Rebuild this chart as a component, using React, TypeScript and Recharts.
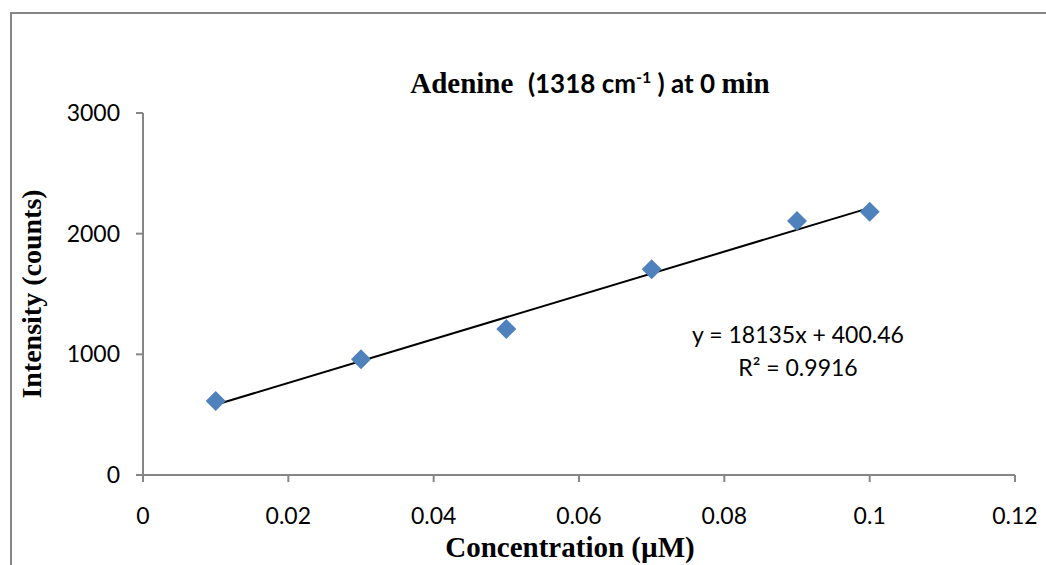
import {
  ComposedChart,
  Scatter,
  XAxis,
  YAxis,
  Label,
} from "recharts";

const concentrations = [0.01, 0.03, 0.05, 0.07, 0.09, 0.1];
const intensities = [613, 960, 1210, 1705, 2105, 2182];
const trendX = [0.01, 0.1];
const trendY = [582, 2214];
const xTicks = [0, 0.02, 0.04, 0.06, 0.08, 0.1, 0.12];
const yTicks = [0, 1000, 2000, 3000];

const points = concentrations.map((c, i) => ({ x: c, y: intensities[i] }));
const trend = trendX.map((c, i) => ({ x: c, y: trendY[i] }));

const axisGray = "#868686";
const tickFont = "Lato, 'Open Sans', sans-serif";
const serif = "'Liberation Serif', 'Times New Roman', serif";

const Diamond = (props: any) => {
  const { cx, cy } = props;
  const r = 10;
  return (
    <polygon
      points={`${cx},${cy - r} ${cx + r},${cy} ${cx},${cy + r} ${cx - r},${cy}`}
      fill="#4F81BD"
    />
  );
};

const NoDot = () => <g />;

export default function App() {
  return (
    <div
      style={{
        position: "absolute",
        left: 0,
        top: 0,
        width: 1046,
        height: 565,
        background: "#fff",
        overflow: "hidden",
      }}
    >
      <div
        style={{
          position: "absolute",
          left: 10,
          top: 12,
          width: 1100,
          height: 600,
          borderLeft: `2px solid ${axisGray}`,
          borderTop: `2px solid ${axisGray}`,
        }}
      />
      <div
        style={{
          position: "absolute",
          left: 0,
          width: 1180,
          top: 60,
          textAlign: "center",
          fontWeight: "bold",
          fontSize: 29,
          lineHeight: "34px",
          whiteSpace: "pre",
          color: "#000",
        }}
      >
        <span style={{ fontFamily: serif }}>Adenine  </span>
        <span style={{ fontFamily: tickFont, fontSize: 26 }}>
          (1318 cm<sup style={{ fontSize: 16 }}>-1</sup> ) at 0{" "}
        </span>
        <span style={{ fontFamily: serif }}>min</span>
      </div>
      <div
        style={{
          position: "absolute",
          left: 650,
          width: 296,
          top: 318,
          textAlign: "center",
          fontFamily: tickFont,
          fontSize: 23,
          lineHeight: "33px",
          color: "#000",
        }}
      >
        <div>y = 18135x + 400.46</div>
        <div>R² = 0.9916</div>
      </div>
      <div style={{ position: "absolute", left: 0, top: 0 }}>
        <ComposedChart
          width={1046}
          height={565}
          margin={{ top: 113, right: 31, left: 0, bottom: 0 }}
        >
          <XAxis
            type="number"
            dataKey="x"
            domain={[0, 0.12]}
            ticks={xTicks}
            interval={0}
            height={90}
            stroke={axisGray}
            strokeWidth={2}
            tickSize={7}
            tick={{ fill: "#000", fontSize: 23, fontFamily: tickFont, dy: 24 }}
          >
            <Label
              value="Concentration (µM)"
              position="insideBottom"
              offset={8}
              style={{
                fontFamily: serif,
                fontWeight: "bold",
                fontSize: 29,
                fill: "#000",
              }}
              dx={-9}
            />
          </XAxis>
          <YAxis
            type="number"
            dataKey="y"
            domain={[0, 3000]}
            ticks={yTicks}
            interval={0}
            width={143}
            stroke={axisGray}
            strokeWidth={2}
            tickSize={7}
            tick={{ fill: "#000", fontSize: 23, fontFamily: tickFont, dx: -14 }}
          >
            <Label
              value="Intensity (counts)"
              angle={-90}
              position="insideLeft"
              offset={31}
              style={{
                fontFamily: serif,
                fontWeight: "bold",
                fontSize: 28,
                fill: "#000",
                textAnchor: "middle",
              }}
            />
          </YAxis>
          <Scatter
            data={trend}
            line={{ stroke: "#000", strokeWidth: 2 }}
            shape={NoDot}
            isAnimationActive={false}
          />
          <Scatter
            data={points}
            shape={Diamond}
            isAnimationActive={false}
          />
        </ComposedChart>
      </div>
    </div>
  );
}
